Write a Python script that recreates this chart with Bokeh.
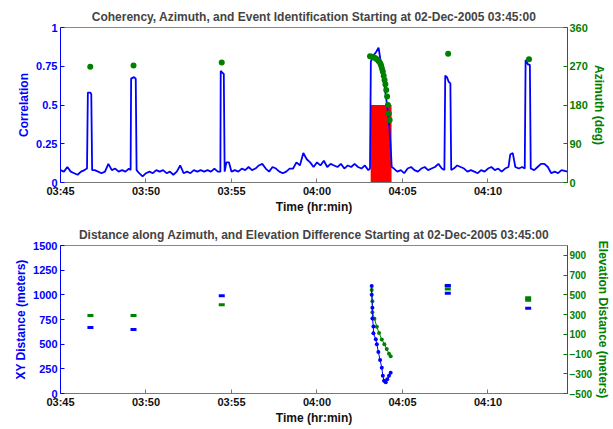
from bokeh.plotting import figure
from bokeh.models import Range1d, LinearAxis, FixedTicker
from bokeh.layouts import column
from bokeh.embed import file_html
from bokeh.resources import INLINE

BLUE = "#0000ff"
GREEN = "#008000"
FONT = "Liberation Sans"

# ---- time axis (minutes after 03:45) ----
x_ticks = [0, 5, 10, 15, 20, 25]
x_labels = ["03:45", "03:50", "03:55", "04:00", "04:05", "04:10"]
x_end = 29.65

# ---- top panel: correlation (left) ----
corr_t = [0.0, 0.2, 0.4, 0.6, 0.8, 1.0, 1.2, 1.4, 1.55, 1.6, 1.75, 1.8, 1.85,
          2.0, 2.2, 2.4, 2.6, 2.8, 3.0, 3.2, 3.4, 3.6, 3.8, 4.0, 4.1, 4.13, 4.3, 4.4, 4.45,
          4.6, 4.8, 5.0, 5.2, 5.4, 5.6, 5.8, 6.0, 6.2, 6.4, 6.6, 6.8, 7.0, 7.2, 7.4, 7.6,
          7.8, 8.0, 8.2, 8.4, 8.6, 8.8, 9.0, 9.2, 9.35, 9.37, 9.45, 9.55, 9.6, 9.7, 9.85,
          10.0, 10.2, 10.4, 10.6, 10.8, 11.0, 11.2, 11.4, 11.6, 11.8, 12.0, 12.2, 12.4,
          12.6, 12.8, 13.0, 13.2, 13.4, 13.6, 13.8, 14.0, 14.2, 14.4, 14.6, 14.8, 15.0,
          15.2, 15.4, 15.6, 15.8, 16.0, 16.2, 16.4, 16.6, 16.8, 17.0, 17.2, 17.4, 17.6,
          17.8, 18.0, 18.1, 18.15, 18.3, 18.45, 18.6, 18.7, 18.8, 18.9, 19.0, 19.1, 19.2,
          19.3, 19.37, 19.5, 19.7, 19.9, 20.1, 20.3, 20.5, 20.7, 20.9, 21.1, 21.3, 21.5,
          21.7, 21.9, 22.1, 22.3, 22.45, 22.5, 22.6, 22.7, 22.8, 22.85, 23.0, 23.2, 23.4,
          23.6, 23.8, 24.0, 24.2, 24.4, 24.6, 24.8, 25.0, 25.2, 25.4, 25.6, 25.8, 26.0,
          26.2, 26.3, 26.45, 26.6, 26.8, 27.0, 27.15, 27.2, 27.35, 27.45, 27.5, 27.7,
          27.9, 28.1, 28.3, 28.5, 28.7, 28.9, 29.1, 29.3, 29.65]
corr_v = [0.08, 0.07, 0.10, 0.07, 0.06, 0.05, 0.07, 0.08, 0.09, 0.58, 0.58, 0.57, 0.08,
          0.08, 0.07, 0.06, 0.07, 0.12, 0.08, 0.09, 0.07, 0.08, 0.07, 0.09, 0.08, 0.67, 0.68, 0.67, 0.08,
          0.06, 0.04, 0.06, 0.07, 0.06, 0.08, 0.07, 0.08, 0.06, 0.07, 0.05, 0.07, 0.11, 0.06, 0.07, 0.06,
          0.08, 0.07, 0.08, 0.07, 0.08, 0.07, 0.09, 0.07, 0.07, 0.72, 0.71, 0.70, 0.07, 0.13, 0.13,
          0.07, 0.08, 0.07, 0.09, 0.08, 0.10, 0.08, 0.09, 0.11, 0.12, 0.09, 0.07, 0.10,
          0.09, 0.07, 0.06, 0.07, 0.09, 0.09, 0.13, 0.11, 0.19, 0.15, 0.13, 0.10, 0.13,
          0.11, 0.14, 0.10, 0.12, 0.11, 0.10, 0.12, 0.09, 0.11, 0.10, 0.12, 0.10, 0.09,
          0.11, 0.08, 0.09, 0.78, 0.82, 0.84, 0.87, 0.80, 0.74, 0.66, 0.58, 0.50, 0.40,
          0.25, 0.10, 0.09, 0.07, 0.08, 0.06, 0.09, 0.10, 0.08, 0.07, 0.09, 0.10, 0.08,
          0.09, 0.10, 0.12, 0.09, 0.08, 0.69, 0.68, 0.65, 0.64, 0.08, 0.09, 0.11, 0.10,
          0.09, 0.07, 0.08, 0.07, 0.06, 0.08, 0.07, 0.09, 0.10, 0.08, 0.09, 0.07, 0.09,
          0.10, 0.18, 0.19, 0.10, 0.09, 0.10, 0.09, 0.79, 0.76, 0.76, 0.09, 0.08,
          0.10, 0.12, 0.12, 0.10, 0.06, 0.07, 0.06, 0.08, 0.07]

# ---- top panel: azimuth (right, degrees) ----
az_t = [1.74, 4.27, 9.43, 18.10, 18.2, 18.3, 18.4, 18.5, 18.6, 18.7, 18.75, 18.8, 18.85,
        18.9, 18.95, 19.0, 19.05, 19.1, 19.15, 19.2, 19.25, 22.67, 27.4]
az_v = [269, 272, 279, 293, 292, 291, 289, 286, 282, 277, 272, 265, 258,
        248, 238, 228, 215, 200, 180, 160, 145, 299, 286]

# ---- top panel: event identification ----
event_start = [18.14]
event_end = [19.36]
event_level = [0.5]

# ---- bottom panel: XY distance (left, meters) ----
xy_iso_t = [1.75, 4.27, 9.43, 22.65, 22.65, 27.35]
xy_iso_v = [668, 648, 990, 1095, 1015, 865]
xy_ev_t = [18.20, 18.20, 18.24, 18.24, 18.30, 18.30, 18.44, 18.50, 18.59, 18.69,
           18.79, 18.85, 18.92, 19.02, 19.11, 19.21, 19.31]
xy_ev_v = [1090, 1000, 870, 760, 680, 610, 550, 500, 420, 340,
           260, 180, 130, 115, 145, 180, 210]

# ---- bottom panel: elevation difference (right, meters) ----
el_iso_t = [1.75, 4.27, 9.43, 22.65, 22.65, 27.35, 27.35]
el_iso_v = [290, 290, 400, 590, 560, 470, 445]
el_ev_t = [18.20, 18.24, 18.24, 18.36, 18.50, 18.63, 18.79, 18.94, 19.08, 19.21, 19.31]
el_ev_v = [548, 435, 323, 258, 177, 113, 48, 0, -48, -97, -123]

FIG_W = 613
BORDER_L = 60
BORDER_R = 44


def style_axis(ax, color, tick_px="11px"):
    ax.major_tick_in = 4
    ax.major_tick_out = 0
    ax.minor_tick_line_color = None
    ax.major_tick_line_color = color
    ax.axis_line_color = color
    ax.major_label_text_color = color
    ax.major_label_text_font = FONT
    ax.major_label_text_font_style = "bold"
    ax.major_label_text_font_size = tick_px
    ax.axis_label_text_color = color
    ax.axis_label_text_font = FONT
    ax.axis_label_text_font_style = "bold"
    ax.axis_label_text_font_size = "12px"
    ax.axis_label_standoff = 2
    ax.major_label_standoff = 3


def right_title(ax, text):
    ax.axis_label = text
    if "axis_label_orientation" in LinearAxis.properties():
        ax.axis_label_orientation = "vertical"
    ax.major_label_standoff = 2
    ax.axis_label_standoff = 1


def make_fig(height, top_b, bottom_b, y0, y1, title):
    p = figure(width=FIG_W, height=height, x_range=Range1d(0, x_end), y_range=Range1d(y0, y1),
               output_backend="svg", toolbar_location=None,
               min_border_left=BORDER_L, min_border_right=BORDER_R,
               min_border_top=top_b, min_border_bottom=bottom_b)
    p.title.text = title
    p.title.text_font = FONT
    p.title.text_font_style = "bold"
    p.title.text_font_size = "12px"
    p.title.align = "center"
    p.title.standoff = 7
    p.xgrid.visible = False
    p.ygrid.visible = False
    p.outline_line_color = "#888888"
    p.background_fill_color = "white"
    p.border_fill_color = "white"
    xa = p.xaxis[0]
    style_axis(xa, "#111111")
    xa.axis_line_color = "#777777"
    xa.major_tick_line_color = "#777777"
    xa.ticker = FixedTicker(ticks=x_ticks)
    xa.major_label_overrides = {t: l for t, l in zip(x_ticks, x_labels)}
    xa.axis_label = "Time (hr:min)"
    xa.axis_label_standoff = 0
    xa.major_label_standoff = 2
    return p


# ===== top figure =====
p1 = make_fig(222, 27, 40, 0, 1,
              "Coherency, Azimuth, and Event Identification Starting at 02-Dec-2005 03:45:00")
ya = p1.yaxis[0]
style_axis(ya, BLUE)
ya.ticker = FixedTicker(ticks=[0, 0.25, 0.5, 0.75, 1])
ya.major_label_overrides = {0: "0", 0.25: "0.25", 0.5: "0.5", 0.75: "0.75", 1: "1"}
ya.axis_label = "Correlation"
p1.extra_y_ranges = {"az": Range1d(0, 360)}
ra = LinearAxis(y_range_name="az", ticker=FixedTicker(ticks=[0, 90, 180, 270, 360]))
style_axis(ra, GREEN)
right_title(ra, "Azimuth (deg)")
p1.add_layout(ra, "right")

p1.quad(left=event_start, right=event_end, bottom=[0], top=event_level,
        fill_color="#ff0000", line_color=None)
p1.line(corr_t, corr_v, line_color=BLUE, line_width=1.8)
p1.scatter(az_t, az_v, y_range_name="az", size=6, marker="circle",
           fill_color=GREEN, line_color=None)

# ===== bottom figure =====
p2 = make_fig(205, 23, 30, 0, 1500,
              "Distance along Azimuth, and Elevation Difference Starting at 02-Dec-2005 03:45:00")
yb = p2.yaxis[0]
style_axis(yb, BLUE)
yb.ticker = FixedTicker(ticks=[0, 250, 500, 750, 1000, 1250, 1500])
yb.axis_label = "XY Distance (meters)"
p2.extra_y_ranges = {"el": Range1d(-500, 1000)}
rb = LinearAxis(y_range_name="el", ticker=FixedTicker(ticks=[-500, -300, -100, 100, 300, 500, 700, 900]))
style_axis(rb, GREEN, tick_px="10px")
right_title(rb, "Elevation Distance (meters)")
p2.add_layout(rb, "right")

p2.scatter(el_iso_t, el_iso_v, y_range_name="el", marker="dash", size=6,
           line_color=GREEN, line_width=3)
p2.scatter(xy_iso_t, xy_iso_v, marker="dash", size=6, line_color=BLUE, line_width=3)
p2.line(el_ev_t, el_ev_v, y_range_name="el", line_color=GREEN, line_width=1)
p2.scatter(el_ev_t, el_ev_v, y_range_name="el", size=4, marker="circle",
           fill_color=GREEN, line_color=None)
p2.line(xy_ev_t, xy_ev_v, line_color=BLUE, line_width=1)
p2.scatter(xy_ev_t, xy_ev_v, size=4, marker="circle", fill_color=BLUE, line_color=None)

layout = column(p1, p2, spacing=0)
open("out.html", "w").write(file_html(layout, INLINE))
